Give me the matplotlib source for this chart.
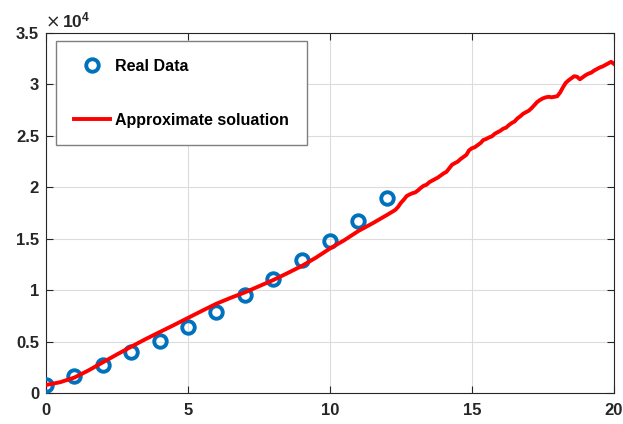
import numpy as np
import matplotlib.pyplot as plt
from matplotlib.ticker import FuncFormatter

plt.rcParams['font.family'] = ['Liberation Sans', 'DejaVu Sans']
plt.rcParams['mathtext.fontset'] = 'custom'
plt.rcParams['mathtext.rm'] = 'Liberation Sans'
plt.rcParams['mathtext.bf'] = 'Liberation Sans:bold'

# 实测数据
t_real = [0, 1, 2, 3, 4, 5, 6, 7, 8, 9, 10, 11, 12]
y_real = [780, 1650, 2680, 3960, 5080, 6440, 7920, 9540, 11070, 12920, 14770, 16770, 18990]

# 近似解
t_fit = [0, 0.5, 1, 1.5, 2, 2.5, 3, 3.5, 4, 4.5, 5, 5.5, 6, 6.5, 7, 7.5, 8, 8.5,
         9, 9.5, 10, 10.5, 11, 11.5, 12, 12.3, 12.4, 12.5, 12.6, 12.7, 12.8, 12.9,
         13.0, 13.1, 13.2, 13.3, 13.4, 13.5, 13.6, 13.7, 13.8, 13.9, 14.0, 14.1,
         14.2, 14.3, 14.4, 14.5, 14.6, 14.7, 14.8, 14.9, 15.0, 15.1, 15.2, 15.3,
         15.4, 15.5, 15.6, 15.7, 15.8, 15.9, 16.0, 16.1, 16.2, 16.3, 16.4, 16.5,
         16.6, 16.7, 16.8, 16.9, 17.0, 17.1, 17.2, 17.3, 17.4, 17.5, 17.6, 17.7,
         17.8, 17.9, 18.0, 18.1, 18.2, 18.3, 18.4, 18.5, 18.6, 18.7, 18.8, 18.9,
         19.0, 19.1, 19.2, 19.3, 19.4, 19.5, 19.6, 19.7, 19.8, 19.9, 20.0]
y_fit = [780, 1050, 1500, 2200, 2980, 3750, 4500, 5230, 5920, 6600, 7300, 8000,
         8680, 9250, 9780, 10380, 10980, 11650, 12340, 13150, 14050, 14850, 15750,
         16500, 17300, 17800, 18100, 18500, 18800, 19150, 19300, 19420, 19500,
         19700, 19950, 20150, 20250, 20500, 20650, 20800, 20950, 21150, 21350,
         21500, 21850, 22200, 22350, 22500, 22750, 22950, 23150, 23600, 23800,
         23900, 24100, 24300, 24600, 24700, 24850, 24950, 25200, 25350, 25500,
         25700, 25800, 26050, 26250, 26400, 26700, 26900, 27150, 27300, 27450,
         27700, 28000, 28300, 28500, 28650, 28750, 28800, 28750, 28800, 28850,
         29200, 29700, 30150, 30400, 30600, 30800, 30750, 30500, 30700, 30900,
         31050, 31150, 31350, 31500, 31650, 31750, 31900, 32050, 32200, 32000]

fig = plt.figure(figsize=(6.23, 4.24), dpi=100)
ax = fig.add_axes([0.0738, 0.0731, 0.9117, 0.849])

ax.plot(t_real, y_real, 'o', markersize=9, markerfacecolor='none',
        markeredgecolor='#0072BD', markeredgewidth=2.8, label='Real Data', zorder=3)
ax.plot(t_fit, y_fit, '-', color='#FF0000', linewidth=2.8,
        label='Approximate soluation', zorder=4)

ax.set_xlim(0, 20)
ax.set_ylim(0, 35000)
ax.set_xticks([0, 5, 10, 15, 20])
ax.set_yticks(np.arange(0, 35001, 5000))
ax.yaxis.set_major_formatter(FuncFormatter(lambda v, p: '%g' % (v / 1e4)))

ax.grid(True, color='#dcdcdc', linewidth=0.8)
ax.set_axisbelow(True)
ax.tick_params(direction='in', length=5, width=0.8, top=True, right=True,
               labelsize=12, colors='#262626')
ax.tick_params(axis='x', pad=7)
ax.tick_params(axis='y', pad=5)
for lab in ax.get_xticklabels() + ax.get_yticklabels():
    lab.set_fontweight('bold')
for s in ax.spines.values():
    s.set_color('#262626')
    s.set_linewidth(0.8)

# 纵轴量级 ×10^4
fig.text(0.0738, 0.934, '\u00d7', fontsize=12.5, family='DejaVu Sans',
         color='#262626', ha='left', va='baseline')
fig.text(0.0995, 0.936, '$\\mathbf{10^{4}}$', fontsize=12.5,
         color='#262626', ha='left', va='baseline')

leg = ax.legend(loc='upper left', bbox_to_anchor=(0.0176, 0.978),
                prop={'weight': 'bold', 'size': 11.5}, borderpad=1.1,
                labelspacing=2.45, handlelength=2.3, handletextpad=0.3,
                fancybox=False, framealpha=1, borderaxespad=0)
leg.get_frame().set_edgecolor('#7f7f7f')
leg.get_frame().set_linewidth(1.0)

fig.savefig('out.png', dpi=100)
